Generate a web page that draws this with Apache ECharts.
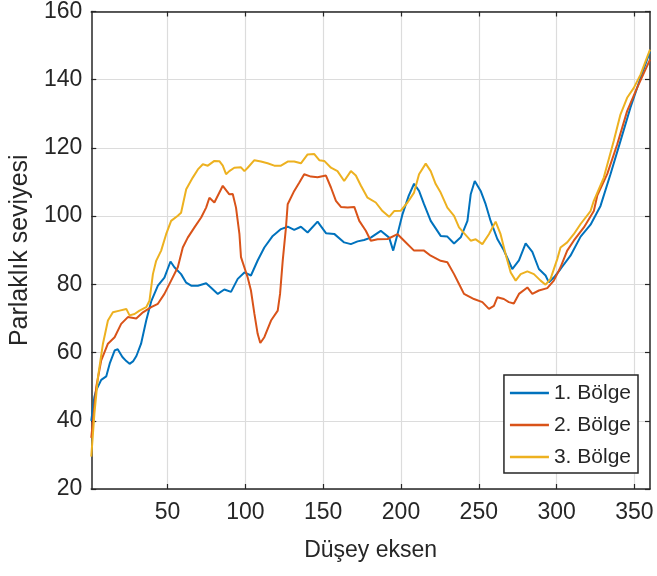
<!DOCTYPE html>
<html>
<head>
<meta charset="utf-8">
<script src="https://cdn.jsdelivr.net/npm/echarts@6/dist/echarts.min.js"></script>
<style>
html,body{margin:0;padding:0;background:#fff;}
#chart{width:657px;height:576px;}
</style>
</head>
<body>
<div id="chart"></div>
<script>
const xTicks = [50, 100, 150, 200, 250, 300, 350];
const seriesNames = ['1. Bölge', '2. Bölge', '3. Bölge'];

const blueX = [1,3,4.2,7.4,10.6,13,16,18,21,23.5,25.6,28,30,33,36.3,39.5,43.8,48,51.9,54.4,58.7,62,65.2,69.5,74.8,78,82.3,86.5,90.8,95.1,99.4,103.6,107.9,112.2,117.6,122.9,127.2,131.4,135.7,140,146.4,151.8,157.1,163.5,167.8,172.1,176.3,180.6,187,192.4,195,197.8,201,205,208.4,211.6,214.8,219.1,225.5,229.8,234.1,238.4,242.7,244.8,247.4,251.2,254.4,257.6,261.9,266.1,271.5,275.8,280.1,284.4,288.6,292.9,295,298.2,302.5,308.9,315.4,321.8,328.2,334.6,341,347.4,353.9,360];
const blueY = [40,47,49,52,53,57,60.6,61,58.7,57.5,56.7,57.5,59,62.6,69.4,75,79.6,82,86.7,85,83,80.5,79.6,79.6,80.3,79,77.2,78.5,77.8,81.6,83.5,82.6,87,90.8,94.2,96.2,96.9,96,96.9,95.2,98.4,95,94.8,92.3,91.8,92.6,93,93.7,95.7,93.7,89.9,94.8,100.6,106,109.5,107.4,103.5,98.6,94.2,94,92,93.8,98.6,106.4,110.3,107.4,103.5,98.6,93.3,90,84.5,87,92,89.5,84.5,82.6,80.6,82,84.5,88.4,94,97.5,103,112.3,122,131.8,140.5,148.3];

const orangeX = [1,4.2,7.4,11.7,16,20.2,24.5,29.9,34.2,39.5,43.8,48,52.3,56.6,59.8,63,67.3,71.6,74.8,76.9,80.1,85.5,89.7,91.9,94,96.2,97.2,101.5,103.6,105.8,107.9,109.6,112.2,116.5,120.8,122.3,124,126.1,127.2,131.4,134.6,137.8,142.1,146.4,151.8,155,158.2,161.4,165.7,170,173.2,177.4,180.6,185,191.4,197.8,202,208.4,214.8,219.1,225.5,229.8,234.1,237.3,240.5,246.9,252.3,256.5,259.7,261.9,266.1,269.3,272.5,275.8,281.2,284.4,288.6,294,298.2,302.5,306.8,311,317.5,323.9,326.1,332.5,338.9,345.3,351.7,360];
const orangeY = [35,49.9,57.7,62.6,64.5,68.4,70.4,70,71.8,73.3,74.3,77.2,81.1,85,90.8,93.7,96.7,99.6,102.5,105.4,104,108.9,106.4,106.5,102.5,94.7,88,82,78.2,71.4,65.5,62.8,64.5,69.4,72.3,77.2,86.9,96.7,103.5,107.4,109.8,112.3,111.6,111.4,111.9,108.4,104.5,102.7,102.5,102.7,98.6,95.7,92.8,93.2,93.3,94.7,92.8,89.9,89.9,88.4,86.9,86.5,83,80.1,77.2,75.7,74.8,72.8,73.7,76.2,75.7,74.8,74.4,77.2,79.1,77.2,78.2,78.9,81.1,85,89.9,92.8,96.7,101.5,106,112.3,121,130.8,137.6,145.9];

const yellowX = [1,3,5.3,8.5,11.7,14.9,19.2,23.5,25.6,28.8,32,36.3,38.4,40.6,42.7,45.9,49.1,52.3,56.6,58.7,62,66.2,69.5,72.7,75.9,80.1,83.3,85.5,87.6,89.7,92.9,97.2,99.4,101.5,105.8,110,114.3,118.6,122.9,127.2,131.4,135.7,140,144.3,147.5,150.7,155,159.2,163.5,167.8,171,174.2,178.5,183.8,188.1,192.4,195.6,199.9,204.2,208.4,211.6,215.9,219.1,222.3,225.5,229.8,234.1,237.3,240.5,244.8,248,252.3,256.5,260.8,264,267.2,270.5,273.7,276.9,281.2,285.4,289.7,292.9,296.1,300.4,302.5,306.8,311,315.4,321.8,323.9,330.3,336.7,341,345.3,349.6,353.9,360];
const yellowY = [29.5,42,52.8,62.6,69.4,71.8,72.3,72.8,70.9,71.3,72.3,73.3,75.2,83,86.9,89.9,94.7,98.6,100.1,101,107.9,111.3,113.7,115.2,114.8,116.2,116.1,114.8,112.3,113.2,114.2,114.3,113.2,114.2,116.4,116,115.5,114.8,114.8,116,116,115.5,118.1,118.2,116.4,116.2,114.2,113.2,110.3,113.2,111.9,109,105.4,104,101.5,99.8,101.5,101.6,104,106.9,112.3,115.4,113.2,109.4,106.9,102.5,100.1,96.7,95,92.8,93.2,91.8,94.7,98.4,94.7,88.9,83.5,81.1,83,83.8,83,81.1,79.9,81.6,87.4,90.8,92.3,94.7,97.7,101.5,104.5,111.3,122,129.8,134.7,137.6,141.5,148.8];

const colors = ['#0072BD', '#D95319', '#EDB120'];
const FONT = 'Liberation Sans, Arial, sans-serif';
const AX = '#262626';

function zip(xs, ys) { return xs.map((x, i) => [x, ys[i]]); }

const chart = echarts.init(document.getElementById('chart'), null, {renderer: 'canvas'});

const xBase = {
  type: 'value', min: 1, max: 360, gridIndex: 0,
  axisLine: {show: true, onZero: false, lineStyle: {color: AX, width: 1.5}},
  axisTick: {show: true, inside: true, length: 5, customValues: xTicks, lineStyle: {color: AX, width: 1.2}},
};
const yBase = {
  type: 'value', min: 20, max: 160, interval: 20, gridIndex: 0,
  axisLine: {show: true, onZero: false, lineStyle: {color: AX, width: 1.5}},
  axisTick: {show: true, inside: true, length: 5, lineStyle: {color: AX, width: 1.2}},
};

chart.setOption({
  animation: false,
  backgroundColor: '#fff',
  color: colors,
  grid: {left: 90, right: 7, top: 10, bottom: 87, containLabel: false},
  xAxis: [
    Object.assign({}, xBase, {
      position: 'bottom',
      axisLabel: {show: true, customValues: xTicks, fontSize: 23, color: AX, fontFamily: FONT, margin: 12},
      splitLine: {show: true, lineStyle: {color: '#dcdcdc', width: 1.2}},
      name: 'Düşey eksen', nameLocation: 'middle', nameGap: 50,
      nameTextStyle: {fontSize: 23, color: AX, fontFamily: FONT}
    }),
    Object.assign({}, xBase, {
      position: 'top',
      axisLabel: {show: false},
      splitLine: {show: false}
    })
  ],
  yAxis: [
    Object.assign({}, yBase, {
      position: 'left',
      axisLabel: {show: true, fontSize: 23, color: AX, fontFamily: FONT, margin: 9},
      splitLine: {show: true, lineStyle: {color: '#dcdcdc', width: 1.2}},
      name: 'Parlaklık seviyesi', nameLocation: 'middle', nameGap: 52,
      nameTextStyle: {fontSize: 25, color: AX, fontFamily: FONT}
    }),
    Object.assign({}, yBase, {
      position: 'right',
      axisLabel: {show: false},
      splitLine: {show: false}
    })
  ],
  legend: {
    orient: 'vertical', right: 19, top: 375,
    backgroundColor: '#fff', borderColor: AX, borderWidth: 1.5, borderRadius: 0,
    padding: [6, 7, 4, 6],
    icon: 'rect',
    itemWidth: 39, itemHeight: 2.5, itemGap: 8,
    textStyle: {fontSize: 21, color: AX, fontFamily: FONT, lineHeight: 24},
    data: seriesNames
  },
  series: [
    {name: seriesNames[0], type: 'line', data: zip(blueX, blueY)},
    {name: seriesNames[1], type: 'line', data: zip(orangeX, orangeY)},
    {name: seriesNames[2], type: 'line', data: zip(yellowX, yellowY)}
  ].map(s => Object.assign(s, {
    xAxisIndex: 0, yAxisIndex: 0, symbol: 'none', showSymbol: false,
    lineStyle: {width: 2}, smooth: false
  }))
});
</script>
</body>
</html>
